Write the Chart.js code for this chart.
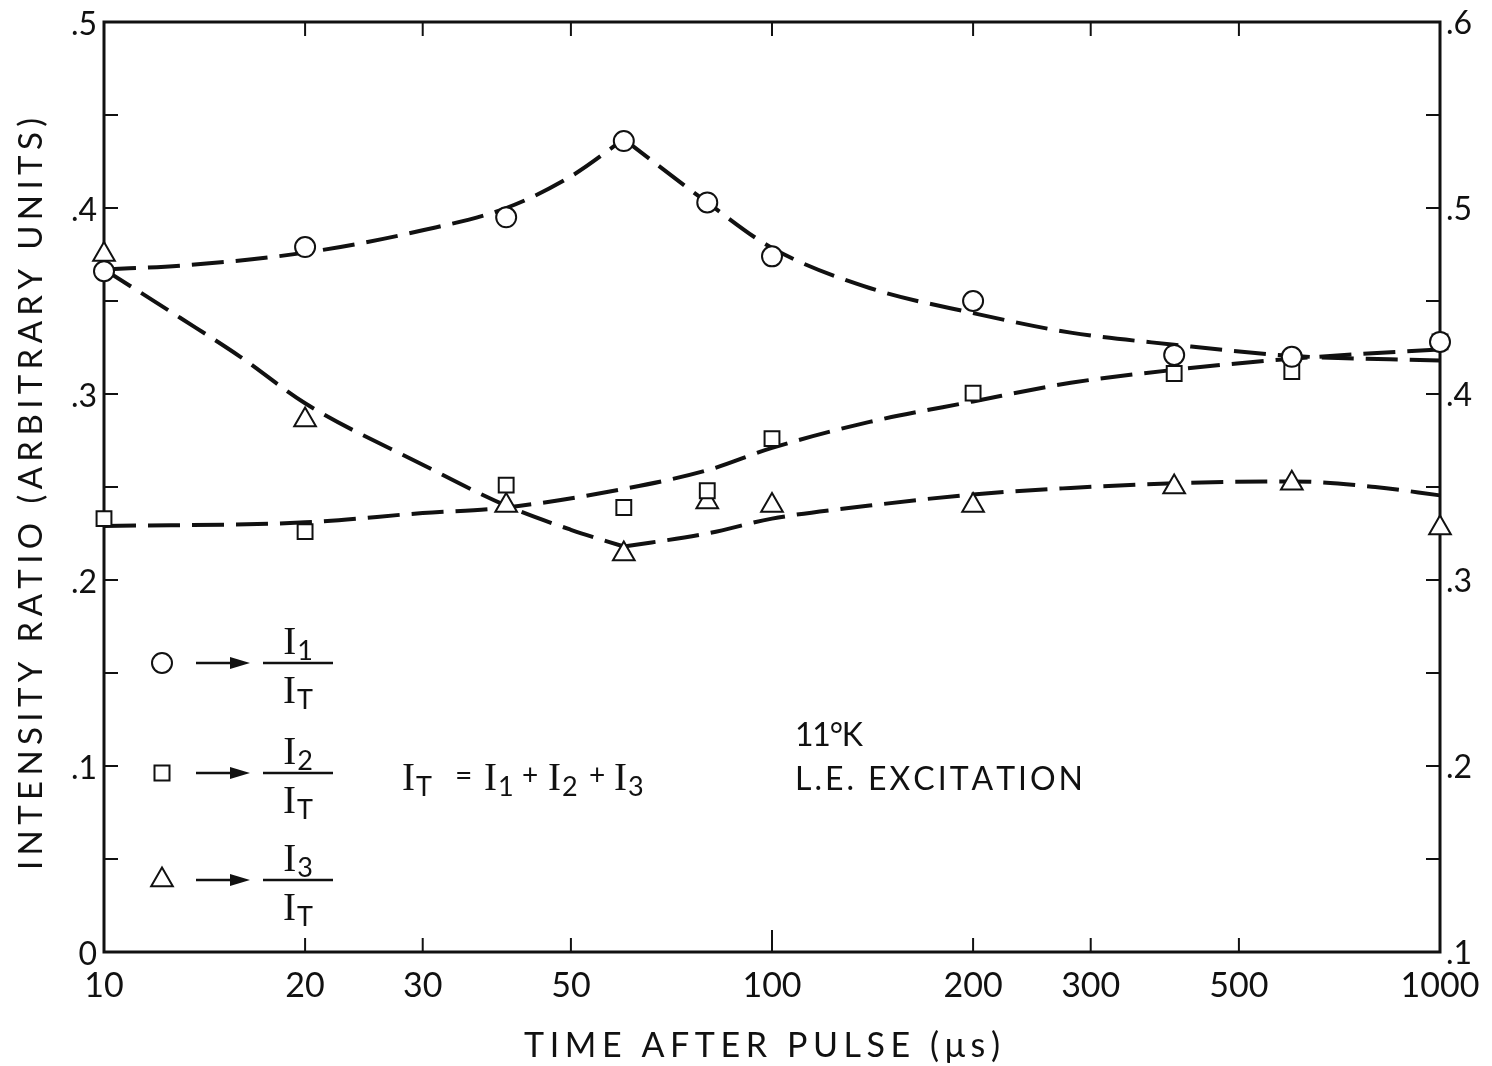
<!DOCTYPE html>
<html>
<head>
<meta charset="utf-8">
<script src="https://cdn.jsdelivr.net/npm/chart.js@4/dist/chart.umd.min.js"></script>
<style>
  html, body { margin: 0; padding: 0; background: #fff; }
</style>
</head>
<body>
<canvas id="miGrafico" width="1492" height="1066"></canvas>
<script>
// tiempos medidos (µs) y razones de intensidad
const tiempos = [10, 20, 40, 60, 80, 100, 200, 400, 600, 1000];
const razonI1 = [0.366, 0.379, 0.395, 0.436, 0.403, 0.374, 0.350, 0.321, 0.320, 0.328];
const razonI2 = [0.233, 0.226, 0.251, 0.239, 0.248, 0.276, 0.3005, 0.311, 0.312, 0.328];
const razonI3 = [0.375, 0.286, 0.240, 0.214, 0.242, 0.240, 0.240, 0.250, 0.252, 0.228];

// curvas trazadas a mano, partidas en el pico / valle de 60 µs
const curvaI1aX = [10, 13, 20, 30, 40, 50, 60];
const curvaI1aY = [0.367, 0.369, 0.376, 0.388, 0.400, 0.417, 0.437];
const curvaI1bX = [60, 80, 100, 140, 200, 280, 400, 600, 1000];
const curvaI1bY = [0.437, 0.403, 0.3785, 0.357, 0.3435, 0.333, 0.3265, 0.3205, 0.318];
const curvaI2X = [10, 20, 30, 40, 60, 80, 100, 140, 200, 280, 400, 600, 1000];
const curvaI2Y = [0.229, 0.231, 0.236, 0.239, 0.249, 0.259, 0.271, 0.285, 0.296, 0.306, 0.313, 0.319, 0.324];
const curvaI3aX = [10, 13, 16, 20, 30, 40, 50, 60];
const curvaI3aY = [0.367, 0.341, 0.320, 0.295, 0.262, 0.240, 0.227, 0.218];
const curvaI3bX = [60, 80, 100, 140, 200, 280, 400, 600, 800, 1000];
const curvaI3bY = [0.218, 0.225, 0.233, 0.240, 0.246, 0.2495, 0.252, 0.253, 0.250, 0.2455];

// ejes
const valoresX = [10, 20, 30, 50, 100, 200, 300, 500, 1000];
const etiquetasX = ['10', '20', '30', '50', '100', '200', '300', '500', '1000'];
const marcasX = [20, 30, 50, 100, 200, 300, 500];
const valoresY = [0, 0.1, 0.2, 0.3, 0.4, 0.5];
const etiquetasY = ['0', '.1', '.2', '.3', '.4', '.5'];
const valoresY2 = [0.1, 0.2, 0.3, 0.4, 0.5, 0.6];
const etiquetasY2 = ['.1', '.2', '.3', '.4', '.5', '.6'];
const marcasY = [0.05, 0.1, 0.15, 0.2, 0.25, 0.3, 0.35, 0.4, 0.45];
const marcasY2 = [0.15, 0.2, 0.25, 0.3, 0.35, 0.4, 0.45, 0.5, 0.55];

const TINTA = '#111';
const LETRA = 'Lato, "Open Sans", sans-serif';
const SERIF = '"Liberation Serif", serif';

function puntos(xs, ys) {
    return xs.map((x, i) => ({ x: x, y: ys[i] }));
}

function curva(xs, ys) {
    return {
        type: 'line',
        data: puntos(xs, ys),
        borderColor: TINTA,
        borderWidth: 4,
        borderDash: [32, 12],
        borderCapStyle: 'butt',
        pointRadius: 0,
        cubicInterpolationMode: 'monotone',
        fill: false,
        clip: false,
        order: 2
    };
}

function marcadores(ys, estilo, radio) {
    return {
        type: 'line',
        data: puntos(tiempos, ys),
        showLine: false,
        pointStyle: estilo,
        pointRadius: radio,
        pointBorderWidth: 2,
        pointBorderColor: TINTA,
        pointBackgroundColor: '#fff',
        clip: false,
        order: 1
    };
}

// texto con espaciado entre letras para llenar un ancho dado
function textoEspaciado(ctx, texto, x, y, ancho) {
    const letras = [...texto];
    const anchos = letras.map(c => ctx.measureText(c).width);
    const natural = anchos.reduce((a, b) => a + b, 0);
    const extra = letras.length > 1 ? (ancho - natural) / (letras.length - 1) : 0;
    let cx = x - ancho / 2;
    ctx.textAlign = 'left';
    letras.forEach((c, i) => {
        ctx.fillText(c, cx, y);
        cx += anchos[i] + extra;
    });
}

function linea(ctx, x1, y1, x2, y2) {
    ctx.beginPath();
    ctx.moveTo(x1, y1);
    ctx.lineTo(x2, y2);
    ctx.stroke();
}

// I con subindice; devuelve el ancho
function dibujarI(ctx, x, base, sub, medir) {
    ctx.font = '39px ' + SERIF;
    const wI = ctx.measureText('I').width;
    ctx.font = '27px ' + LETRA;
    const wS = ctx.measureText(sub).width;
    if (!medir) {
        ctx.textAlign = 'left';
        ctx.font = '39px ' + SERIF;
        ctx.fillText('I', x, base);
        ctx.font = '27px ' + LETRA;
        ctx.fillText(sub, x + wI + 1, base + 6);
    }
    return wI + 1 + wS;
}

function simbolo(ctx, tipo, x, y) {
    ctx.save();
    ctx.lineWidth = 2;
    ctx.strokeStyle = TINTA;
    ctx.fillStyle = '#fff';
    ctx.beginPath();
    if (tipo === 'circle') {
        ctx.arc(x, y, 10, 0, Math.PI * 2);
    } else if (tipo === 'rect') {
        ctx.rect(x - 7.5, y - 7.5, 15, 15);
    } else {
        const r = 12.5;
        ctx.moveTo(x, y - r);
        ctx.lineTo(x + r * 0.866, y + r / 2);
        ctx.lineTo(x - r * 0.866, y + r / 2);
        ctx.closePath();
    }
    ctx.fill();
    ctx.stroke();
    ctx.restore();
}

function flecha(ctx, x1, x2, y) {
    ctx.lineWidth = 2.5;
    linea(ctx, x1, y, x2 - 18, y);
    ctx.beginPath();
    ctx.moveTo(x2, y);
    ctx.lineTo(x2 - 20, y - 6);
    ctx.lineTo(x2 - 20, y + 6);
    ctx.closePath();
    ctx.fill();
}

function fraccion(ctx, sub, centro, y) {
    ctx.lineWidth = 2.5;
    linea(ctx, centro - 35, y, centro + 35, y);
    let w = dibujarI(ctx, 0, 0, sub, true);
    dibujarI(ctx, centro - w / 2, y - 9, sub);
    w = dibujarI(ctx, 0, 0, 'T', true);
    dibujarI(ctx, centro - w / 2, y + 40, 'T');
}

const marco = {
    id: 'marco',
    beforeDatasetsDraw(chart) {
        const { ctx, chartArea: a, scales } = chart;
        ctx.save();
        ctx.strokeStyle = TINTA;
        ctx.lineWidth = 3;
        ctx.strokeRect(a.left, a.top, a.right - a.left, a.bottom - a.top);
        ctx.lineWidth = 2;
        marcasX.forEach(v => {
            const px = scales.x.getPixelForValue(v);
            linea(ctx, px, a.bottom, px, a.bottom - (v === 100 ? 22 : 14));
            linea(ctx, px, a.top, px, a.top + 14);
        });
        marcasY.forEach(v => {
            const py = scales.y.getPixelForValue(v);
            linea(ctx, a.left, py, a.left + 14, py);
        });
        marcasY2.forEach(v => {
            const py = scales.y2.getPixelForValue(v);
            linea(ctx, a.right, py, a.right - 14, py);
        });
        ctx.restore();
    },
    afterDatasetsDraw(chart) {
        const { ctx, chartArea: a, scales } = chart;
        ctx.save();
        ctx.fillStyle = TINTA;
        ctx.strokeStyle = TINTA;

        // etiquetas de los ejes
        ctx.font = '34px ' + LETRA;
        ctx.textBaseline = 'alphabetic';
        ctx.textAlign = 'center';
        valoresX.forEach((v, i) => {
            ctx.fillText(etiquetasX[i], scales.x.getPixelForValue(v), a.bottom + 45);
        });
        ctx.font = '32px ' + LETRA;
        ctx.textBaseline = 'middle';
        ctx.textAlign = 'right';
        valoresY.forEach((v, i) => {
            ctx.fillText(etiquetasY[i], a.left - 7, scales.y.getPixelForValue(v) + 3);
        });
        ctx.textAlign = 'left';
        valoresY2.forEach((v, i) => {
            ctx.fillText(etiquetasY2[i], a.right + 6, scales.y2.getPixelForValue(v) + 2);
        });

        // titulos
        ctx.textBaseline = 'alphabetic';
        ctx.font = '34px ' + LETRA;
        textoEspaciado(ctx, 'TIME AFTER PULSE (\u03bcs)', 762, 1057, 476);
        ctx.save();
        ctx.translate(42, 494);
        ctx.rotate(-Math.PI / 2);
        ctx.font = '33px ' + LETRA;
        textoEspaciado(ctx, 'INTENSITY RATIO (ARBITRARY UNITS)', 0, 0, 752);
        ctx.restore();

        // leyenda
        const filas = [['circle', '1', 663], ['rect', '2', 773], ['triangle', '3', 880]];
        filas.forEach(f => {
            simbolo(ctx, f[0], 162, f[2]);
            flecha(ctx, 196, 250, f[2]);
            fraccion(ctx, f[1], 298, f[2]);
        });

        // I_T = I_1 + I_2 + I_3
        const base = 790;
        dibujarI(ctx, 402, base, 'T');
        ctx.font = '30px ' + LETRA;
        ctx.textAlign = 'left';
        ctx.fillText('=', 455, base - 4);
        dibujarI(ctx, 484, base, '1');
        ctx.font = '28px ' + LETRA;
        ctx.textAlign = 'left';
        ctx.fillText('+', 522, base - 5);
        dibujarI(ctx, 548, base, '2');
        ctx.font = '28px ' + LETRA;
        ctx.textAlign = 'left';
        ctx.fillText('+', 589, base - 5);
        dibujarI(ctx, 614, base, '3');

        // condiciones
        ctx.font = '32px ' + LETRA;
        ctx.textAlign = 'left';
        textoEspaciado(ctx, '11\u00b0K', 795 + 34, 746, 68);
        textoEspaciado(ctx, 'L.E. EXCITATION', 795 + 144, 790, 288);
        ctx.restore();
    }
};

const ctx = document.getElementById('miGrafico').getContext('2d');
const miGrafico = new Chart(ctx, {
    data: {
        datasets: [
            curva(curvaI1aX, curvaI1aY),
            curva(curvaI1bX, curvaI1bY),
            curva(curvaI2X, curvaI2Y),
            curva(curvaI3aX, curvaI3aY),
            curva(curvaI3bX, curvaI3bY),
            marcadores(razonI1, 'circle', 10),
            marcadores(razonI2, 'rect', 10.5),
            marcadores(razonI3, 'triangle', 12.5)
        ]
    },
    options: {
        responsive: false,
        animation: false,
        events: [],
        layout: { padding: { left: 104, right: 52, top: 22, bottom: 114 } },
        plugins: { legend: { display: false }, tooltip: { enabled: false } },
        scales: {
            x: { type: 'logarithmic', min: 10, max: 1000, display: false },
            y: { type: 'linear', min: 0, max: 0.5, display: false },
            y2: { type: 'linear', position: 'right', min: 0.1, max: 0.6, display: false }
        }
    },
    plugins: [marco]
});
</script>
</body>
</html>
